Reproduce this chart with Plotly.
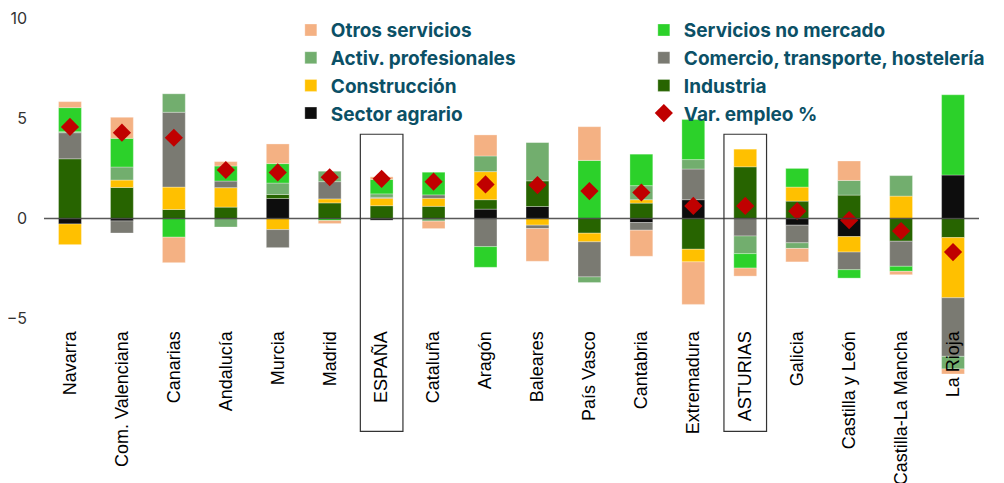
import plotly.graph_objects as go

regions = ["Navarra", "Com. Valenciana", "Canarias", "Andalucía", "Murcia", "Madrid",
           "ESPAÑA", "Cataluña", "Aragón", "Baleares", "País Vasco", "Cantabria",
           "Extremadura", "ASTURIAS", "Galicia", "Castilla y León", "Castilla-La Mancha",
           "La Rioja"]

agrario = [-0.27, -0.12, 0.0, 0.0, 1.0, 0.0, -0.08, 0.0, 0.47, 0.6, 0.0, -0.2, 0.94, 0.0, -0.33, -0.9, 0.0, 2.17]
industria = [2.98, 1.55, 0.45, 0.57, 0.2, 0.78, 0.64, 0.61, 0.47, 1.28, -0.73, 0.77, -1.53, 2.58, 0.87, 1.17, -1.13, -0.95]
construccion = [-1.03, 0.37, 1.12, 0.97, -0.55, 0.2, 0.37, 0.4, 1.4, -0.33, -0.43, 0.17, -0.63, 0.88, 0.7, -0.77, 1.12, -3.0]
comercio = [1.3, -0.6, 3.73, 0.33, -0.9, 0.86, 0.05, 0.17, -1.4, -0.17, -1.75, -0.38, 1.53, -0.87, -0.88, -0.88, -1.25, -2.92]
activ_prof = [0.05, 0.65, 0.92, -0.42, 0.57, 0.52, 0.17, -0.13, 0.78, 1.92, -0.28, 0.7, 0.47, -0.88, -0.28, 0.73, 1.02, -0.63]
serv_no_mercado = [1.2, 1.43, -0.93, 0.75, 0.97, -0.1, 0.72, 1.13, -1.03, 0.0, 2.9, 1.57, 2.0, -0.72, 0.93, -0.42, -0.25, 4.0]
otros_serv = [0.3, 1.05, -1.27, 0.22, 0.98, -0.15, 0.13, -0.37, 1.05, -1.63, 1.68, -1.3, -2.12, -0.4, -0.67, 0.97, -0.17, -0.25]
var_empleo = [4.57, 4.28, 4.03, 2.42, 2.3, 2.06, 1.98, 1.84, 1.7, 1.67, 1.37, 1.3, 0.63, 0.63, 0.37, -0.08, -0.62, -1.67]

# stacking order (from zero outwards) and legend rank
series = [
    ("Sector agrario", agrario, "#0d0d0d", 7),
    ("Industria", industria, "#276400", 6),
    ("Construcción", construccion, "#ffc000", 5),
    ("Comercio, transporte, hostelería", comercio, "#7a7a72", 4),
    ("Activ. profesionales", activ_prof, "#72ae6e", 3),
    ("Servicios no mercado", serv_no_mercado, "#2cd12a", 2),
    ("Otros servicios", otros_serv, "#f4b183", 1),
]

fig = go.Figure()
for name, vals, color, rank in series:
    fig.add_trace(go.Bar(
        x=regions, y=vals, name=name, marker_color=color,
        marker_line=dict(color="rgba(255,255,255,0.5)", width=0.6),
        legendrank=rank,
    ))

fig.add_trace(go.Scatter(
    x=regions, y=var_empleo, name="Var. empleo %", mode="markers",
    marker=dict(symbol="diamond", size=14, color="#c00000"),
    legendrank=8,
))

# zero line above bars
fig.add_shape(type="line", xref="paper", yref="y", x0=0, x1=1, y0=0, y1=0,
              line=dict(color="rgba(60,60,60,0.85)", width=1.5), layer="above")

# boxes around ESPAÑA and ASTURIAS
for reg in ["ESPAÑA", "ASTURIAS"]:
    i = regions.index(reg)
    fig.add_shape(type="rect", xref="x", yref="paper", x0=i - 0.41, x1=i + 0.41,
                  y0=-0.145, y1=0.678, line=dict(color="#333333", width=1.2),
                  fillcolor="rgba(0,0,0,0)", layer="above")

# the page body adds an 8px offset, margins compensate for it
fig.update_layout(
    barmode="relative",
    bargap=0.56,
    width=1004, height=483,
    margin=dict(l=36, r=33, t=10, b=112, autoexpand=False),
    plot_bgcolor="white", paper_bgcolor="white",
    font=dict(family="Inter", size=16, color="#333333"),
    legend=dict(
        orientation="h", x=0.264, xanchor="left", y=1.019, yanchor="top",
        entrywidth=308, bgcolor="rgba(0,0,0,0)",
        font=dict(family="Inter", size=19, color="#0b5066", weight="bold"),
        traceorder="normal",
    ),
)
fig.update_yaxes(range=[-8, 10], tickvals=[-5, 0, 5, 10], showgrid=False,
                 zeroline=False, showline=False, ticklabelstandoff=16,
                 ticklabeloverflow="allow",
                 tickfont=dict(family="Inter", size=16, color="#333333"))
fig.update_xaxes(range=[-0.5, len(regions) - 0.5], anchor="free", position=0.145,
                 showline=False, showgrid=False,
                 ticks="", tickangle=-90, automargin=False,
                 tickfont=dict(family="Liberation Sans", size=18, color="#000000"))

fig.write_html("out.html")
